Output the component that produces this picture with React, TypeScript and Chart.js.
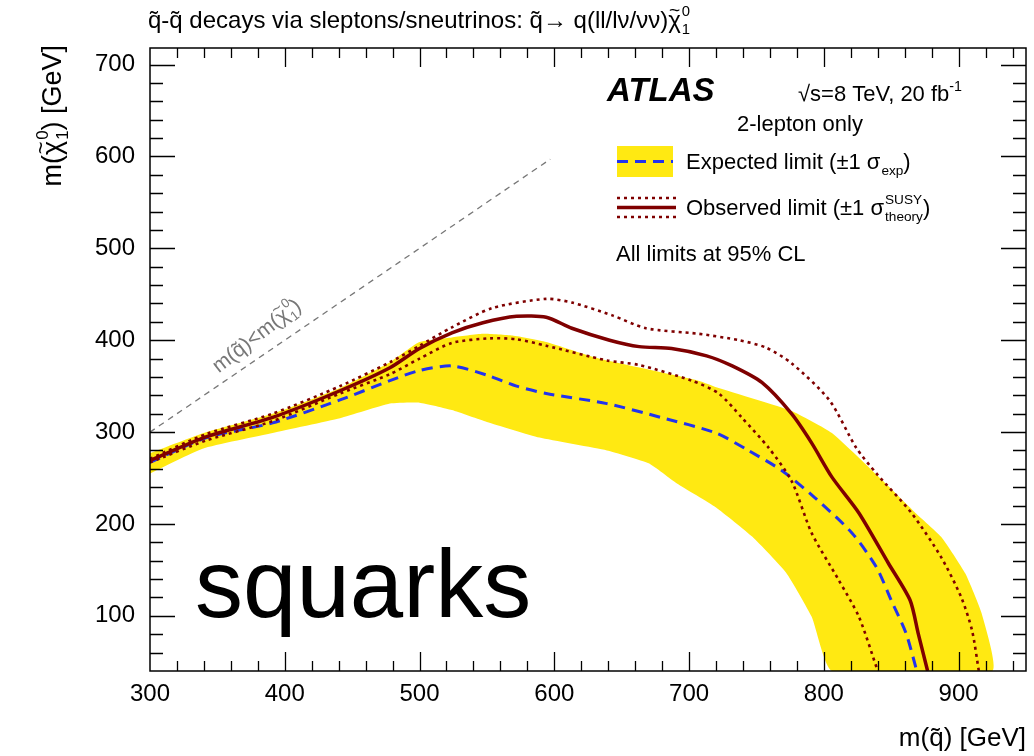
import React, { useEffect, useRef } from 'react';
import { Chart, registerables } from 'chart.js';

Chart.register(...registerables);

const FAMILY = '"Liberation Sans", Arial, Helvetica, sans-serif';

// Axis ranges and ticks
const X_RANGE = [300, 950];
const Y_RANGE = [40, 718];
const X_TICKS = [300, 400, 500, 600, 700, 800, 900];
const Y_TICKS = [100, 200, 300, 400, 500, 600, 700];
const MINOR_STEP = 20;

// Observed limit (solid)
const OBS_X = [300, 342, 391, 441, 478, 500, 524, 547, 572, 594, 613, 641, 663, 687, 713, 732, 754, 776, 791, 806, 826, 848, 864, 870, 877];
const OBS_Y = [269, 295, 316, 345, 370, 391, 408, 419, 426, 425, 413, 400, 393, 391, 383, 372, 354, 320, 288, 251, 212, 157, 117, 81, 40];

// Observed +1 sigma theory (dotted)
const OBS_UP_X = [300, 342, 391, 441, 478, 500, 524, 554, 594, 613, 643, 668, 707, 737, 757, 776, 804, 824, 839, 865, 887, 902, 910, 915];
const OBS_UP_Y = [271, 298, 320, 350, 376, 394, 414, 435, 445, 441, 427, 413, 407, 400, 392, 375, 335, 283, 255, 212, 164, 120, 84, 40];

// Observed -1 sigma theory (dotted)
const OBS_LO_X = [300, 342, 391, 441, 478, 500, 524, 552, 572, 594, 639, 663, 702, 722, 739, 759, 776, 791, 811, 826, 840];
const OBS_LO_Y = [267, 291, 312, 342, 363, 380, 397, 402, 401, 394, 378, 373, 356, 342, 316, 283, 247, 190, 139, 99, 40];

// Expected limit (dashed)
const EXP_X = [300, 342, 391, 441, 478, 500, 524, 550, 572, 594, 639, 679, 720, 744, 769, 793, 821, 839, 850, 861, 869];
const EXP_Y = [267, 294, 310, 335, 356, 367, 372, 362, 350, 342, 331, 316, 299, 280, 258, 229, 190, 153, 117, 81, 40];

// Expected +-1 sigma band edges
const BAND_UP_X = [300, 342, 391, 441, 478, 500, 524, 547, 569, 594, 633, 707, 722, 776, 806, 843, 868, 887, 905, 917, 925];
const BAND_UP_Y = [277, 300, 320, 348, 376, 398, 403, 407, 405, 398, 380, 356, 348, 323, 299, 248, 212, 186, 146, 103, 40];
const BAND_LO_X = [300, 339, 391, 441, 478, 500, 524, 550, 589, 639, 670, 691, 720, 747, 772, 791, 806];
const BAND_LO_Y = [255, 282, 299, 315, 331, 332, 324, 311, 294, 280, 266, 244, 218, 186, 147, 99, 40];

// Kinematic boundary m(squark) = m(neutralino)
const DIAG_X = [300, 597];
const DIAG_Y = [300, 597];

const COL_OBS = '#7f0000';
const COL_EXP = '#2233ee';
const COL_BAND = '#ffe912';

const pts = (xs: number[], ys: number[]) => xs.map((x, i) => ({ x, y: ys[i] }));

type Seg = { t?: string; sup?: string; sub?: string; scale?: number; rise?: number; style?: string; tilde?: boolean };

function fontStr(size: number, style = '') {
  return `${style} ${size}px ${FAMILY}`;
}

function segWidth(ctx: CanvasRenderingContext2D, s: Seg, size: number) {
  if (s.sup !== undefined || s.sub !== undefined) {
    ctx.font = fontStr(size * 0.62);
    return Math.max(ctx.measureText(s.sup || '').width, ctx.measureText(s.sub || '').width) + 1;
  }
  ctx.font = fontStr(size * (s.scale || 1), s.style || '');
  return ctx.measureText(s.t || '').width;
}

function drawRich(ctx: CanvasRenderingContext2D, x: number, y: number, segs: Seg[], size: number, align: 'left' | 'right' | 'center' = 'left') {
  const widths = segs.map((s) => segWidth(ctx, s, size));
  const total = widths.reduce((a, b) => a + b, 0);
  let cx = align === 'right' ? x - total : align === 'center' ? x - total / 2 : x;
  ctx.textAlign = 'left';
  ctx.textBaseline = 'alphabetic';
  segs.forEach((s, i) => {
    if (s.sup !== undefined || s.sub !== undefined) {
      ctx.font = fontStr(size * 0.62);
      if (s.sup) ctx.fillText(s.sup, cx + 1, y - size * 0.5);
      if (s.sub) ctx.fillText(s.sub, cx + 1, y + size * 0.25);
    } else {
      ctx.font = fontStr(size * (s.scale || 1), s.style || '');
      ctx.fillText(s.t || '', cx, y - (s.rise || 0) * size);
      if (s.tilde) {
        ctx.font = fontStr(size * 0.8);
        ctx.textAlign = 'center';
        ctx.fillText('~', cx + widths[i] / 2, y - size * 0.5);
        ctx.textAlign = 'left';
      }
    }
    cx += widths[i];
  });
}

const framePlugin = {
  id: 'atlasFrame',
  afterDatasetsDraw(chart: any) {
    const { ctx, chartArea: a, scales } = chart;
    const xs = scales.x;
    const ys = scales.y;
    ctx.save();
    ctx.strokeStyle = '#000';
    ctx.lineWidth = 1.3;
    ctx.beginPath();
    for (let v = X_RANGE[0] + MINOR_STEP; v < X_RANGE[1]; v += MINOR_STEP) {
      const px = Math.round(xs.getPixelForValue(v)) + 0.5;
      const len = v % 100 === 0 ? 19 : 10;
      ctx.moveTo(px, a.bottom);
      ctx.lineTo(px, a.bottom - len);
      ctx.moveTo(px, a.top);
      ctx.lineTo(px, a.top + len);
    }
    for (let v = 60; v < Y_RANGE[1]; v += MINOR_STEP) {
      const py = Math.round(ys.getPixelForValue(v)) + 0.5;
      const len = v % 100 === 0 ? 25 : 13;
      ctx.moveTo(a.left, py);
      ctx.lineTo(a.left + len, py);
      ctx.moveTo(a.right, py);
      ctx.lineTo(a.right - len, py);
    }
    ctx.stroke();
    ctx.lineWidth = 1.5;
    ctx.strokeRect(a.left, a.top, a.right - a.left, a.bottom - a.top);
    ctx.restore();
  },
  afterDraw(chart: any) {
    const { ctx, chartArea: a, scales } = chart;
    const xs = scales.x;
    const ys = scales.y;
    ctx.save();
    ctx.fillStyle = '#000';

    // Title
    drawRich(ctx, 148, 28, [
      { t: 'q\u0303-q\u0303 decays via sleptons/sneutrinos: q\u0303\u2192 q(ll/l\u03bd/\u03bd\u03bd)' },
      { t: '\u03c7', tilde: true },
      { sup: '0', sub: '1' },
    ], 24);

    // Axis titles
    drawRich(ctx, a.right, 746, [{ t: 'm(q\u0303) [GeV]' }], 26, 'right');
    ctx.save();
    ctx.translate(61, 45);
    ctx.rotate(-Math.PI / 2);
    drawRich(ctx, 0, 0, [{ t: 'm(' }, { t: '\u03c7', tilde: true }, { sup: '0', sub: '1' }, { t: ') [GeV]' }], 27, 'right');
    ctx.restore();

    // ATLAS label
    ctx.font = fontStr(33, 'italic bold');
    ctx.textAlign = 'left';
    ctx.textBaseline = 'alphabetic';
    ctx.fillText('ATLAS', 607, 101);
    drawRich(ctx, 798, 101, [{ t: '\u221as=8 TeV, 20 fb' }, { t: '-1', scale: 0.65, rise: 0.45 }], 22);
    drawRich(ctx, 737, 131, [{ t: '2-lepton only' }], 22);

    // Legend: expected
    ctx.fillStyle = COL_BAND;
    ctx.fillRect(617, 146, 56, 31);
    ctx.strokeStyle = COL_EXP;
    ctx.lineWidth = 3;
    ctx.setLineDash([11, 7]);
    ctx.beginPath();
    ctx.moveTo(617, 161.5);
    ctx.lineTo(673, 161.5);
    ctx.stroke();
    // Legend: observed
    ctx.strokeStyle = COL_OBS;
    ctx.setLineDash([]);
    ctx.lineWidth = 3.5;
    ctx.beginPath();
    ctx.moveTo(617, 207.5);
    ctx.lineTo(676, 207.5);
    ctx.stroke();
    ctx.lineWidth = 2.6;
    ctx.setLineDash([3, 4]);
    ctx.beginPath();
    ctx.moveTo(617, 198);
    ctx.lineTo(676, 198);
    ctx.moveTo(617, 217);
    ctx.lineTo(676, 217);
    ctx.stroke();
    ctx.setLineDash([]);

    ctx.fillStyle = '#000';
    drawRich(ctx, 686, 169, [{ t: 'Expected limit (\u00b11 \u03c3' }, { sub: 'exp' }, { t: ')' }], 22);
    drawRich(ctx, 686, 215, [{ t: 'Observed limit (\u00b11 \u03c3' }, { sup: 'SUSY', sub: 'theory' }, { t: ')' }], 22);
    drawRich(ctx, 616, 261, [{ t: 'All limits at 95% CL' }], 22);

    // Big label
    ctx.font = fontStr(96);
    ctx.fillText('squarks', 195, 617);

    // Diagonal label
    const p1x = xs.getPixelForValue(DIAG_X[0]);
    const p1y = ys.getPixelForValue(DIAG_Y[0]);
    const p2x = xs.getPixelForValue(DIAG_X[1]);
    const p2y = ys.getPixelForValue(DIAG_Y[1]);
    const ang = Math.atan2(p2y - p1y, p2x - p1x) * 1.1;
    const mx = xs.getPixelForValue(388);
    const my = ys.getPixelForValue(388);
    ctx.save();
    ctx.translate(mx, my);
    ctx.rotate(ang);
    ctx.fillStyle = '#777';
    drawRich(ctx, 0, -13, [{ t: 'm(q\u0303)<m(' }, { t: '\u03c7', tilde: true }, { sup: '0', sub: '1' }, { t: ')' }], 21, 'center');
    ctx.restore();

    ctx.restore();
  },
};

export default function App() {
  const ref = useRef<HTMLCanvasElement | null>(null);

  useEffect(() => {
    if (!ref.current) return;
    const line = (data: any, color: string, width: number, dash: number[], order: number) => ({
      data,
      showLine: true,
      borderColor: color,
      borderWidth: width,
      borderDash: dash,
      pointRadius: 0,
      tension: 0.25,
      fill: false,
      clip: 0,
      order,
    });
    const band = pts(BAND_UP_X, BAND_UP_Y).concat(pts(BAND_LO_X, BAND_LO_Y).reverse());
    const chart = new Chart(ref.current, {
      type: 'scatter',
      data: {
        datasets: [
          line(pts(OBS_X, OBS_Y), COL_OBS, 3.5, [], 1),
          line(pts(OBS_UP_X, OBS_UP_Y), COL_OBS, 2.6, [3, 4], 2),
          line(pts(OBS_LO_X, OBS_LO_Y), COL_OBS, 2.6, [3, 4], 2),
          line(pts(EXP_X, EXP_Y), COL_EXP, 3, [11, 7], 3),
          line(pts(DIAG_X, DIAG_Y), '#777777', 1.3, [6, 5], 4),
          {
            data: band,
            showLine: true,
            borderColor: 'rgba(0,0,0,0)',
            borderWidth: 0,
            backgroundColor: COL_BAND,
            pointRadius: 0,
            tension: 0.15,
            fill: 'shape',
            clip: 0,
            order: 10,
          } as any,
        ],
      },
      options: {
        animation: false,
        responsive: false,
        devicePixelRatio: 1,
        layout: { padding: { left: 0, top: 48, right: 8, bottom: 0 } },
        plugins: { legend: { display: false }, tooltip: { enabled: false } },
        scales: {
          x: {
            type: 'linear',
            min: X_RANGE[0],
            max: X_RANGE[1],
            afterBuildTicks: (s: any) => {
              s.ticks = X_TICKS.map((v) => ({ value: v }));
            },
            afterFit: (s: any) => {
              s.height = 85;
            },
            ticks: { font: { family: FAMILY, size: 24 }, color: '#000', padding: 9, maxRotation: 0, autoSkip: false },
            grid: { display: false, drawTicks: false },
            border: { display: false },
          },
          y: {
            type: 'linear',
            min: Y_RANGE[0],
            max: Y_RANGE[1],
            afterBuildTicks: (s: any) => {
              s.ticks = Y_TICKS.map((v) => ({ value: v }));
            },
            afterFit: (s: any) => {
              s.width = 150;
            },
            ticks: { font: { family: FAMILY, size: 24 }, color: '#000', padding: 15, autoSkip: false },
            grid: { display: false, drawTicks: false },
            border: { display: false },
          },
        },
      } as any,
      plugins: [framePlugin],
    });
    return () => chart.destroy();
  }, []);

  return (
    <div style={{ position: 'absolute', left: 0, top: 0, width: 1034, height: 756, background: '#fff' }}>
      <canvas ref={ref} width={1034} height={756} style={{ display: 'block', width: 1034, height: 756 }} />
    </div>
  );
}
